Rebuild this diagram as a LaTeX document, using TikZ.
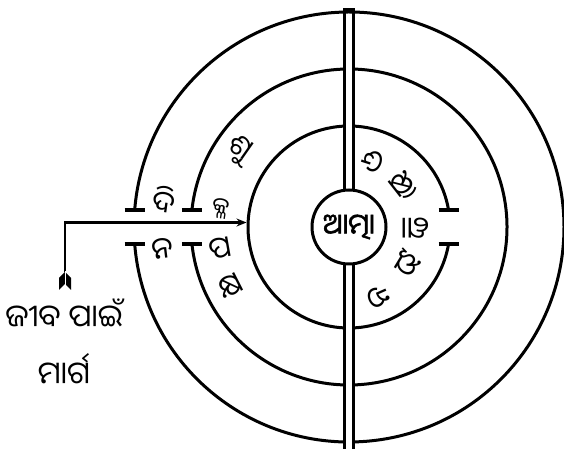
\documentclass[tikz,border=0pt]{standalone}
\usepackage{fontspec}
\newfontfamily\odia[Script=Oriya]{Noto Sans Oriya UI}
\newfontfamily\odiabf[Script=Oriya,FakeBold=2]{Noto Sans Oriya UI}
\usetikzlibrary{arrows.meta}
\tikzset{
  ring/.style={line width=3pt},
  gate/.style={line width=4pt},
  wall/.style={line width=3.5pt},
  tir/.style={line width=2.5pt,-{Stealth[length=10pt,width=8pt]}},
  akshar/.style={font=\odia\fontsize{30}{30}\selectfont,inner sep=0pt},
}

\begin{document}
\begin{tikzpicture}[x=1pt,y=1pt]
  \useasboundingbox (0,0) rectangle (564,449);
  \coordinate (O) at (349,222);
  % three rings, gates left (outer, middle) and right (third)
  \draw[ring] ([shift={(184.5:215)}]O) arc[start angle=184.5,end angle=535.5,radius=215];
  \draw[ring] ([shift={(186.2:158)}]O) arc[start angle=186.2,end angle=533.8,radius=158];
  \draw[ring] ([shift={(9.7:101)}]O) arc[start angle=9.7,end angle=350.3,radius=101];
  \foreach \a/\r in {175.5/215,184.5/215,173.8/158,186.2/158,9.7/101,-9.7/101}
    \draw[gate] ([shift={(\a:\r)}]O) ++(-10,0) -- ++(20,0);
  % the wall through the middle
  \fill[white] (345,0) rectangle (353,435);
  \draw[wall] (344.5,0) -- (344.5,439) -- (353.5,439) -- (353.5,0);
  \node[circle,draw,ring,fill=white,minimum size=74pt,inner sep=0pt,
    font=\odiabf\fontsize{28}{28}\selectfont] (atma) at (O) {ଆତ୍ମା};
  % path of the jiva
  \coordinate (tail) at (65,177);
  \coordinate (bend) at (65,226.5);
  \coordinate (tip) at (246.5,226.5);
  \draw[tir] (tail) -- (bend) -- (tip);
  \fill (65,177) -- (59,171) -- (59,159) -- (65,165) -- cycle;
  \fill (65,177) -- (71,171) -- (71,159) -- (65,165) -- cycle;
  \draw[white,line width=0.8pt] (65,178) -- (65,158);
  \node[font=\odia\fontsize{31}{57}\selectfont,align=center] (jiva) at (64,106)
    {ଜୀବ ପାଇଁ\\ମାର୍ଗ};
  % letters in the rings
  \node[akshar,rotate=-8] (di) at ([shift={(172:187)}]O) {ଦି};
  \node[akshar,rotate=7] (na) at ([shift={(187:188)}]O) {ନ};
  \node[akshar,rotate=-35] (s1) at ([shift={(145:135)}]O) {ଶୁ};
  \node[akshar,rotate=-9,font=\odia\fontsize{24}{24}\selectfont] (s2)
    at ([shift={(172:130)}]O) {କ୍ଳ};
  \node[akshar,rotate=10] (s3) at ([shift={(190:131)}]O) {ପ};
  \node[akshar,rotate=27] (s4) at ([shift={(207:133)}]O) {କ୍ଷ};
  \foreach \a/\t/\r [count=\i] in {72/ଦ/70,38/କ୍ଷି/69,0/ଣା/66,-31/ୟ/69,-66/ନ/76}
    \node[akshar,rotate=\a-180] (u\i) at ([shift={(\a:\r)}]O) {\t};
\end{tikzpicture}
\end{document}
